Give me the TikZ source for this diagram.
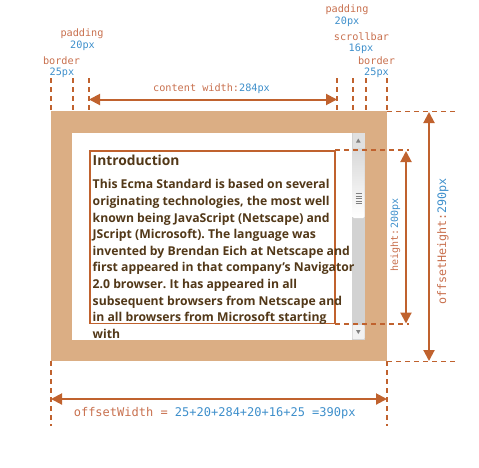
\documentclass[tikz,border=0pt]{standalone}
\usepackage{fontspec}
\setmainfont{Open Sans}
\setmonofont{DejaVu Sans Mono}
\usetikzlibrary{arrows.meta}
\frenchspacing
\definecolor{frame}{HTML}{DBAE84}
\definecolor{line}{HTML}{C0622E}
\definecolor{lbl}{HTML}{C8704E}
\definecolor{num}{HTML}{3E8FCB}
\definecolor{body}{HTML}{523818}
\definecolor{track}{HTML}{D2D2D2}
\tikzset{
  dim/.style={line, line width=1.8pt, dash pattern=on 5pt off 4pt},
  dimarrow/.style={line, line width=2pt, {Triangle[length=11pt,width=11pt]}-{Triangle[length=11pt,width=11pt]}},
  lab/.style={font=\ttfamily\fontsize{10.2}{12}\selectfont, text=lbl, inner sep=0pt},
  numlab/.style={font=\ttfamily\fontsize{10.2}{12}\selectfont, text=num, inner sep=0pt},
}
\begin{document}
\begin{tikzpicture}[x=1pt,y=-1pt]
\useasboundingbox (0,0) rectangle (479,467);
% corners
\coordinate (bTL) at (51,111); \coordinate (bBR) at (387,361);
\coordinate (pTL) at (72,132.5); \coordinate (pBR) at (365,339.5);
\coordinate (cTL) at (90,151); \coordinate (cBR) at (335,323.5);
% frame
\fill[frame] (bTL) rectangle (bBR);
\fill[white] (pTL) rectangle (pBR);
% scrollbar
\fill[track] (352,132.5) rectangle (365,339.5);
\fill[white!88!black] (352.5,133) rectangle (364.5,148);
\fill[gray] (356,142.5) -- (360.6,142.5) -- (358.3,138.5) -- cycle;
\shade[top color=white!85!black, bottom color=white, rounded corners=1.5pt] (352.5,148) rectangle (364.5,218);
\foreach \yy in {193.5,196,198.5,201,203.5} \draw[gray, line width=0.8pt] (355.5,\yy) -- (361.5,\yy);
\fill[white!95!black, rounded corners=1pt] (352.5,325) rectangle (364.5,339);
\fill[gray] (356,330) -- (360.6,330) -- (358.3,334) -- cycle;
% content box
\draw[line, line width=1.3pt] (cTL) rectangle (cBR);
% text
\node[anchor=west, inner sep=0pt, text=body, font=\bfseries\fontsize{13.8}{16}\selectfont] (title) at (92.5,160.5) {Introduction};
\node[anchor=north west, inner sep=0pt, align=left, text=body, font=\bfseries\fontsize{12.2}{16.6}\selectfont] (txt) at (92.5,179.5) {This Ecma Standard is based on several\\
originating technologies, the most well\\
known being JavaScript (Netscape) and\\
JScript (Microsoft). The language was\\
invented by Brendan Eich at Netscape and\\
first appeared in that company’s Navigator\\
2.0 browser. It has appeared in all\\
subsequent browsers from Netscape and\\
in all browsers from Microsoft starting\\
with};
% top dashed verticals
\foreach \xx/\nm in {51/v1,73/v2,89/v3,337/v4,353/v5,366/v6,387/v7} {
  \coordinate (\nm t) at (\xx,78); \coordinate (\nm b) at (\xx,111);
  \draw[dim] (\nm t) -- (\nm b);
}
% content width arrow
\coordinate (cwL) at (89,99.5); \coordinate (cwR) at (337,99.5);
\draw[dimarrow] (cwL) -- (cwR);
\node[font=\ttfamily\fontsize{10.2}{12}\selectfont, inner sep=0pt] (cw) at (211.5,89) {\textcolor{lbl}{content width:}\textcolor{num}{284px}};
% top labels
\node[lab] (padL) at (82,34) {padding};
\node[numlab] (padLn) at (82.5,46) {20px};
\node[lab] (borL) at (61.5,61) {border};
\node[numlab] (borLn) at (62,72.5) {25px};
\node[lab] (padR) at (347,9.5) {padding};
\node[numlab] (padRn) at (347,21.5) {20px};
\node[lab] (scr) at (361.5,37) {scrollbar};
\node[numlab] (scrn) at (361,49) {16px};
\node[lab] (borR) at (376.5,61) {border};
\node[numlab] (borRn) at (376.5,73) {25px};
% right dashed horizontals
\coordinate (h1a) at (387,111.5); \coordinate (h1b) at (458,111.5);
\coordinate (h2a) at (387,361.5); \coordinate (h2b) at (458,361.5);
\coordinate (h3a) at (335,150); \coordinate (h3b) at (409,150);
\coordinate (h4a) at (335,324); \coordinate (h4b) at (409,324);
\draw[dim] (h1a) -- (h1b);
\draw[dim] (h2a) -- (h2b);
\draw[dim] (h3a) -- (h3b);
\draw[dim] (h4a) -- (h4b);
% height arrows
\coordinate (hT) at (406,151); \coordinate (hB) at (406,323.5);
\draw[dimarrow] (hT) -- (hB);
\node[rotate=90, font=\ttfamily\fontsize{10}{12}\selectfont, inner sep=0pt] (hl) at (395.5,235) {\textcolor{lbl}{height:}\textcolor{num}{200px}};
\coordinate (ohT) at (429,112); \coordinate (ohB) at (429,361);
\draw[dimarrow] (ohT) -- (ohB);
\node[rotate=90, font=\ttfamily\fontsize{11.7}{14}\selectfont, inner sep=0pt] (ohl) at (443,241.5) {\textcolor{lbl}{offsetHeight:}\textcolor{num}{290px}};
% bottom
\coordinate (bv1a) at (51,361); \coordinate (bv1b) at (51,426);
\coordinate (bv2a) at (387,361); \coordinate (bv2b) at (387,426);
\draw[dim] (bv1a) -- (bv1b);
\draw[dim] (bv2a) -- (bv2b);
\coordinate (owL) at (51,399); \coordinate (owR) at (387,399);
\draw[dimarrow] (owL) -- (owR);
\node[font=\ttfamily\fontsize{12}{14}\selectfont, inner sep=0pt] (ow) at (214.7,412.7) {\textcolor{lbl}{offsetWidth = }\textcolor{num}{25+20+284+20+16+25 =390px}};
\end{tikzpicture}
\end{document}
